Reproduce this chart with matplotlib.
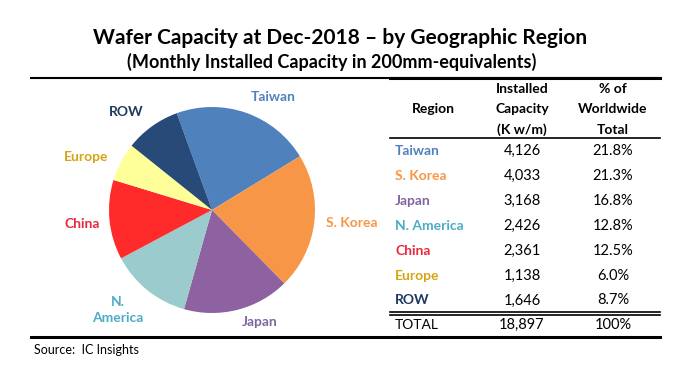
import matplotlib
matplotlib.use("Agg")
import matplotlib.pyplot as plt

plt.rcParams['font.family'] = ['Lato', 'DejaVu Sans']

# data
regions = ["Taiwan", "S. Korea", "Japan", "N. America", "China", "Europe", "ROW"]
capacity = [4126, 4033, 3168, 2426, 2361, 1138, 1646]
share = ["21.8%", "21.3%", "16.8%", "12.8%", "12.5%", "6.0%", "8.7%"]
total_capacity = 18897
total_share = "100%"

slice_colors = ["#4f81bd", "#f79646", "#8e62a0", "#9ccbcd", "#ff2b2b", "#ffff99", "#284a78"]
text_colors = ["#4f81bd", "#f79646", "#8064a2", "#4bacc6", "#e8283c", "#d4a514", "#1f3864"]
pie_labels = ["Taiwan", "S. Korea", "Japan", "N.\nAmerica", "China", "Europe", "ROW"]
# label positions in pixels (x, y from top)
label_pos = [(273, 97), (352, 223), (260, 322), (118, 310), (82, 224), (86, 157), (126, 112)]

W, H = 689, 373
fig = plt.figure(figsize=(W / 100, H / 100), dpi=100)

# overlay axes in pixel coords
ax = fig.add_axes([0, 0, 1, 1])
ax.set_xlim(0, W)
ax.set_ylim(H, 0)
ax.axis('off')

# pie
cx, cy, r = 212, 210, 103
pax = fig.add_axes([(cx - r) / W, (H - cy - r) / H, 2 * r / W, 2 * r / H])
pax.pie(capacity, colors=slice_colors, startangle=110, counterclock=False,
        wedgeprops=dict(linewidth=0))
pax.set_xlim(-1, 1)
pax.set_ylim(-1, 1)
pax.set_aspect('auto')
pax.axis('off')

for lab, (x, y), c in zip(pie_labels, label_pos, text_colors):
    ax.text(x, y, lab, color=c, fontsize=10, fontweight='bold', ha='center', va='center',
            linespacing=1.5)

# titles
ax.text(340, 38, "Wafer Capacity at Dec-2018 \u2013 by Geographic Region", fontsize=15,
        fontweight='bold', ha='center', va='center', color='black')
ax.text(332, 62, "(Monthly Installed Capacity in 200mm-equivalents)", fontsize=13,
        fontweight='bold', ha='center', va='center', color='black')

# rules
ax.plot([31, 660], [78, 78], color='black', lw=1.5)
ax.plot([390, 660], [78, 78], color='black', lw=2.2)
ax.plot([31, 660], [336.5, 336.5], color='black', lw=2.2)
ax.plot([390, 660], [138, 138], color='black', lw=1.2)
ax.plot([390, 660], [311.7, 311.7], color='black', lw=1.2)
ax.plot([390, 660], [314.5, 314.5], color='black', lw=1.2)

# table header
col_x = [395, 522, 613]
ax.text(433, 109, "Region", fontsize=10, fontweight='bold', ha='center', va='center')
for y, t in zip([89, 109, 130], ["Installed", "Capacity", "(K w/m)"]):
    ax.text(col_x[1], y, t, fontsize=10, fontweight='bold', ha='center', va='center')
for y, t in zip([89, 109, 130], ["% of", "Worldwide", "Total"]):
    ax.text(col_x[2], y, t, fontsize=10, fontweight='bold', ha='center', va='center')

# table rows
row_y0, row_dy = 151, 24.9
for i, (reg, cap, sh) in enumerate(zip(regions, capacity, share)):
    y = row_y0 + i * row_dy
    ax.text(col_x[0], y, reg, fontsize=10, fontweight='bold', color=text_colors[i],
            ha='left', va='center')
    ax.text(col_x[1], y, f"{cap:,}", fontsize=10.5, ha='center', va='center')
    ax.text(col_x[2], y, sh, fontsize=10.5, ha='center', va='center')

ax.text(col_x[0], 325, "TOTAL", fontsize=10, ha='left', va='center')
ax.text(col_x[1], 325, f"{total_capacity:,}", fontsize=10.5, ha='center', va='center')
ax.text(col_x[2], 325, total_share, fontsize=10.5, ha='center', va='center')

ax.text(34, 350, "Source:  IC Insights", fontsize=9, ha='left', va='center')

fig.savefig("out.png", dpi=100)
